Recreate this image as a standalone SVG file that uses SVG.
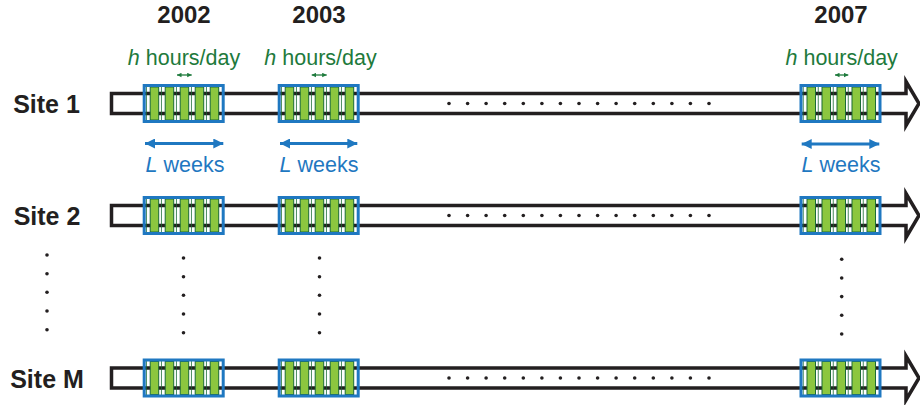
<svg xmlns="http://www.w3.org/2000/svg" xmlns:xlink="http://www.w3.org/1999/xlink" width="920" height="405" viewBox="0 0 920 405">
<style>
text{font-family:"Liberation Sans",Arial,Helvetica,sans-serif}
.yr{font-size:24px;font-weight:bold;fill:#231f20;text-anchor:middle}
.site{font-size:25px;font-weight:bold;fill:#231f20;text-anchor:middle}
.hd{font-size:21.5px;fill:#1e7a3c;text-anchor:middle}
.lw{font-size:21.5px;fill:#1f78c1;text-anchor:middle}
.bar{fill:#fff;stroke:#231f20;stroke-width:3.5;stroke-linejoin:miter}
.gb{fill:#8cc63f;stroke:#1b6b35;stroke-width:1}
.tl{stroke:#1b6b35;stroke-width:0.8}
.bx{fill:none;stroke:#1f78c1;stroke-width:3}
.dot{fill:#231f20}
.ba{stroke:#1f78c1;stroke-width:3;fill:none}
.ga{stroke:#1e7a3c;stroke-width:1.3;fill:none}
</style>
<defs>
<marker id="mb" viewBox="0 0 10 10" refX="10" refY="5" markerWidth="10" markerHeight="10" markerUnits="userSpaceOnUse" orient="auto-start-reverse">
<path d="M0,0 L10,5 L0,10 Z" fill="#1f78c1"/>
</marker>
<marker id="mg" viewBox="0 0 10 10" refX="10" refY="5" markerWidth="4.5" markerHeight="5" markerUnits="userSpaceOnUse" orient="auto-start-reverse">
<path d="M0,0 L10,5 L0,10 Z" fill="#1e7a3c"/>
</marker>
<g id="box">
<line class="tl" x1="2.25" y1="0" x2="2.25" y2="36"/>
<line class="tl" x1="17.25" y1="0" x2="17.25" y2="36"/>
<line class="tl" x1="32.25" y1="0" x2="32.25" y2="36"/>
<line class="tl" x1="47.25" y1="0" x2="47.25" y2="36"/>
<line class="tl" x1="62.25" y1="0" x2="62.25" y2="36"/>
<rect class="gb" x="6" y="1.5" width="8.5" height="33"/>
<rect class="gb" x="21" y="1.5" width="8.5" height="33"/>
<rect class="gb" x="36" y="1.5" width="8.5" height="33"/>
<rect class="gb" x="51" y="1.5" width="8.5" height="33"/>
<rect class="gb" x="66" y="1.5" width="8.5" height="33"/>
<rect class="bx" x="0" y="0" width="79" height="36"/>
</g>
<g id="hdots">
<circle class="dot" cx="449" cy="0" r="1.8"/><circle class="dot" cx="467.6" cy="0" r="1.8"/><circle class="dot" cx="486.1" cy="0" r="1.8"/><circle class="dot" cx="504.7" cy="0" r="1.8"/><circle class="dot" cx="523.3" cy="0" r="1.8"/><circle class="dot" cx="541.9" cy="0" r="1.8"/><circle class="dot" cx="560.4" cy="0" r="1.8"/><circle class="dot" cx="579" cy="0" r="1.8"/><circle class="dot" cx="597.6" cy="0" r="1.8"/><circle class="dot" cx="616.1" cy="0" r="1.8"/><circle class="dot" cx="634.7" cy="0" r="1.8"/><circle class="dot" cx="653.3" cy="0" r="1.8"/><circle class="dot" cx="671.9" cy="0" r="1.8"/><circle class="dot" cx="690.4" cy="0" r="1.8"/><circle class="dot" cx="709" cy="0" r="1.8"/>
</g>
<g id="vdots">
<circle class="dot" cx="0" cy="0" r="1.8"/><circle class="dot" cx="0" cy="18.7" r="1.8"/><circle class="dot" cx="0" cy="37.3" r="1.8"/><circle class="dot" cx="0" cy="56" r="1.8"/><circle class="dot" cx="0" cy="74.7" r="1.8"/>
</g>
</defs>
<rect width="920" height="405" fill="#fff"/>

<g id="years">
<text class="yr" x="184" y="23">2002</text>
<text class="yr" x="319" y="23">2003</text>
<text class="yr" x="841" y="23">2007</text>
</g>

<g id="annotations">
<text class="hd" x="184" y="65"><tspan font-style="italic">h</tspan> hours/day</text>
<text class="hd" x="320.5" y="65"><tspan font-style="italic">h</tspan> hours/day</text>
<text class="hd" x="841.7" y="65"><tspan font-style="italic">h</tspan> hours/day</text>
<text class="lw" x="185" y="171.5"><tspan font-style="italic">L</tspan> weeks</text>
<text class="lw" x="319" y="171.5"><tspan font-style="italic">L</tspan> weeks</text>
<text class="lw" x="841" y="171.5"><tspan font-style="italic">L</tspan> weeks</text>
</g>

<g id="site1">
<text class="site" x="46.5" y="112.7">Site 1</text>
<path class="bar" d="M111.5,93.5 H906 V81.5 L919,103.5 L906,125.5 V113.5 H111.5 Z"/>
<use xlink:href="#hdots" href="#hdots" transform="translate(0,103.5)"/>
<use xlink:href="#box" href="#box" transform="translate(144.2,85.5)"/>
<use xlink:href="#box" href="#box" transform="translate(279.2,85.5)"/>
<use xlink:href="#box" href="#box" transform="translate(801,85.5)"/>
</g>

<g id="site2">
<text class="site" x="47" y="225">Site 2</text>
<path class="bar" d="M111.5,205.5 H906 V193.5 L919,215.5 L906,237.5 V225.5 H111.5 Z"/>
<use xlink:href="#hdots" href="#hdots" transform="translate(0,215.5)"/>
<use xlink:href="#box" href="#box" transform="translate(144.2,197.5)"/>
<use xlink:href="#box" href="#box" transform="translate(279.2,197.5)"/>
<use xlink:href="#box" href="#box" transform="translate(801,197.5)"/>
</g>

<g id="siteM">
<text class="site" x="47" y="387.5">Site M</text>
<path class="bar" d="M111.5,368 H906 V356 L919,378 L906,400 V388 H111.5 Z"/>
<use xlink:href="#hdots" href="#hdots" transform="translate(0,378)"/>
<use xlink:href="#box" href="#box" transform="translate(144.2,360)"/>
<use xlink:href="#box" href="#box" transform="translate(279.2,360)"/>
<use xlink:href="#box" href="#box" transform="translate(801,360)"/>
</g>

<g id="ellipsis">
<use xlink:href="#vdots" href="#vdots" transform="translate(47,255)"/>
<use xlink:href="#vdots" href="#vdots" transform="translate(183.5,258)"/>
<use xlink:href="#vdots" href="#vdots" transform="translate(319.5,258)"/>
<use xlink:href="#vdots" href="#vdots" transform="translate(841.7,259.3)"/>
</g>

<g id="connectors">
<line class="ga" x1="177" y1="75" x2="191.7" y2="75" marker-start="url(#mg)" marker-end="url(#mg)"/>
<line class="ga" x1="311.7" y1="75" x2="326.7" y2="75" marker-start="url(#mg)" marker-end="url(#mg)"/>
<line class="ga" x1="835" y1="75" x2="848.3" y2="75" marker-start="url(#mg)" marker-end="url(#mg)"/>
<line class="ba" x1="145" y1="143.5" x2="223.3" y2="143.5" marker-start="url(#mb)" marker-end="url(#mb)"/>
<line class="ba" x1="280" y1="143.5" x2="357.3" y2="143.5" marker-start="url(#mb)" marker-end="url(#mb)"/>
<line class="ba" x1="801.7" y1="144" x2="879.3" y2="144" marker-start="url(#mb)" marker-end="url(#mb)"/>
</g>
</svg>
